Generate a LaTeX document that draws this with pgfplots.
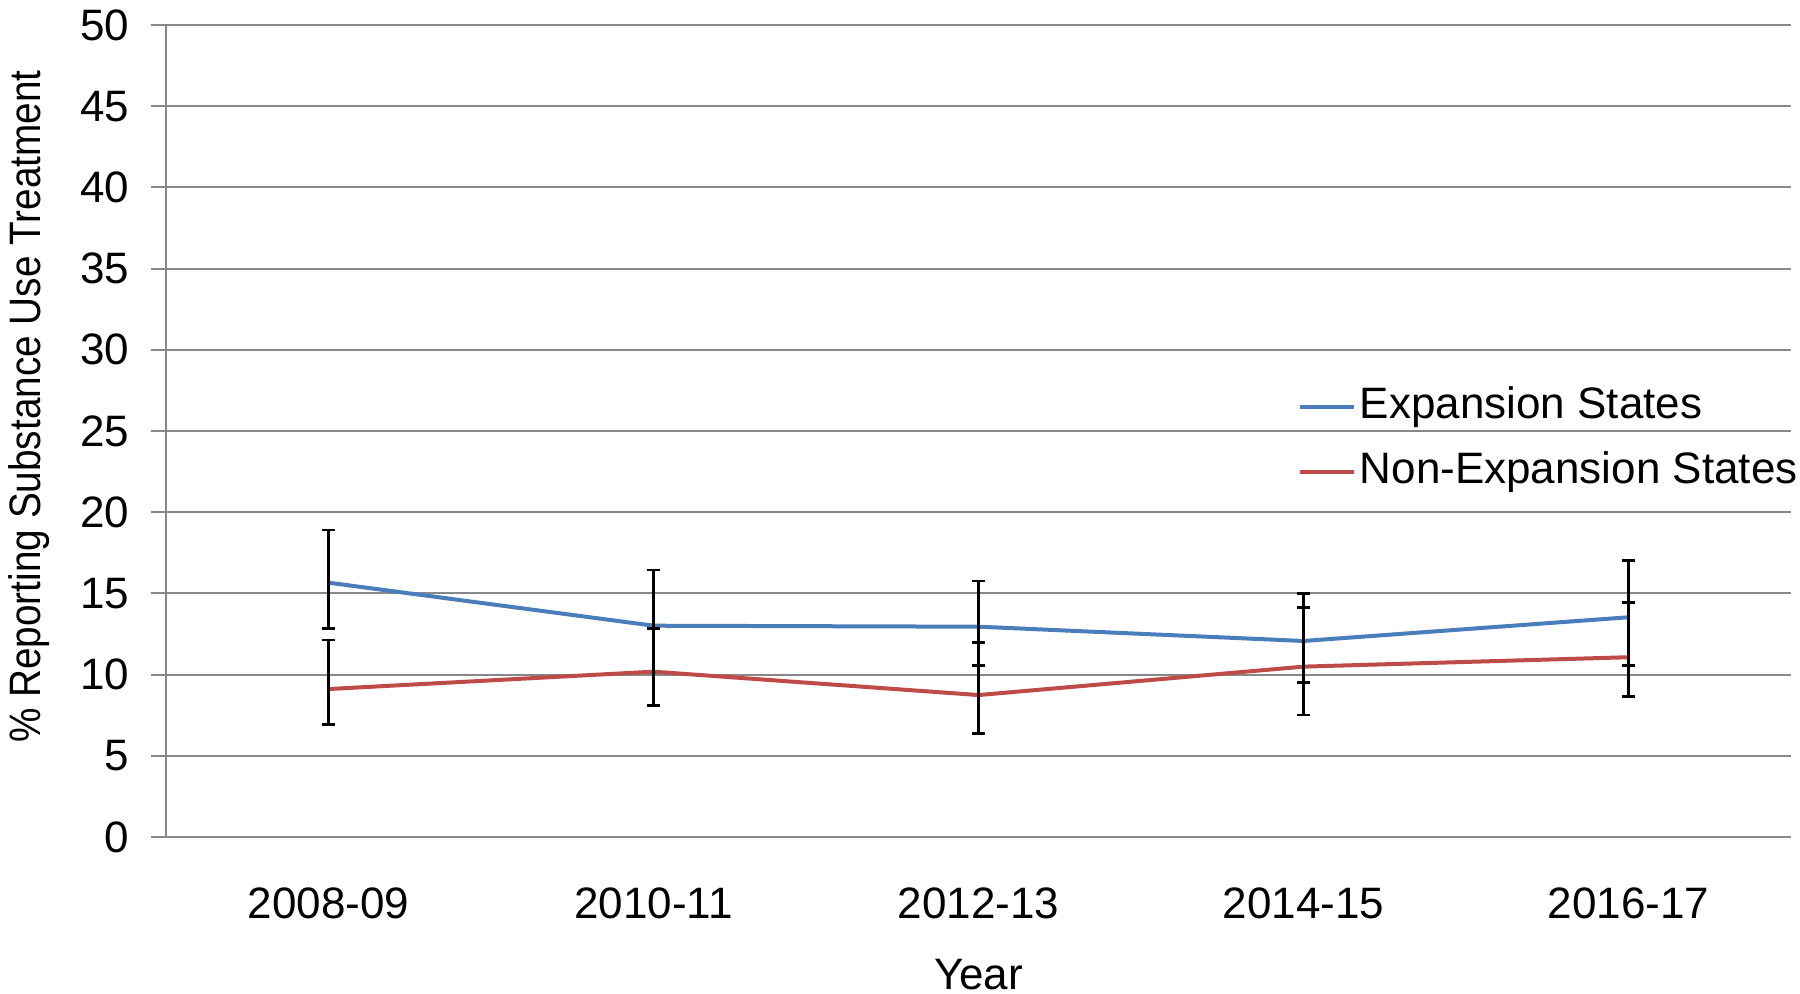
\documentclass[border=0pt]{standalone}
\usepackage{pgfplots}
\pgfplotsset{compat=1.18}
\usepackage{fontspec}
\setmainfont{Liberation Sans}
\definecolor{expblue}{HTML}{4A7EBB}
\definecolor{nonred}{HTML}{BE4B48}
\definecolor{gridgray}{HTML}{888888}
\newcommand{\ff}{\fontsize{11}{13}\selectfont}
\begin{document}
\begin{tikzpicture}
\begin{axis}[
  name=ax,
  scale only axis,
  width=406.25pt, height=203pt,
  xmin=-0.5, xmax=4.5,
  ymin=0, ymax=50,
  xtick={0,1,2,3,4},
  xticklabels={2008-09,2010-11,2012-13,2014-15,2016-17},
  ytick={0,5,...,50},
  axis x line=bottom, axis y line=left,
  axis line style={gridgray, line width=0.5pt, -},
  x axis line style={draw=none},
  ymajorgrids,
  grid style={gridgray, line width=0.5pt},
  tick align=outside,
  major tick length=3.75pt,
  xtick style={draw=none},
  ytick style={gridgray, line width=0.5pt},
  /pgf/number format/assume math mode=true,
  ticklabel style={font=\ff, text=black},
  yticklabel style={xshift=-1.9pt},
  xticklabel style={anchor=center, yshift=-12.9pt},
  xlabel={Year},
  ylabel={\scalebox{0.88}[1]{\% Reporting Substance Use Treatment}},
  label style={font=\ff},
  xlabel style={at={(axis description cs:0.5,-0.17)}, anchor=center},
  ylabel style={at={(axis description cs:-0.0843,0.53)}, anchor=center},
  legend style={draw=none, fill=none, font=\ff, at={(axis description cs:0.696,0.489)}, anchor=west, inner sep=0pt, row sep=3.75pt, nodes={inner sep=1pt, text height=8pt, text depth=2.5pt}},
  legend cell align=left,
  legend image code/.code={\draw[#1, line width=1pt] (0pt,0pt) -- (13.5pt,0pt);},
  clip=false,
]
\addplot[expblue, line width=1pt, mark=none,
  error bars/.cd, y dir=both, y explicit,
  error bar style={black, line width=0.7pt},
  error mark options={black, rotate=90, mark size=1.7pt, line width=0.7pt}]
  coordinates {
  (0,15.66) += (0,3.24) -= (0,2.81)
  (1,13.01) += (0,3.43) -= (0,2.90)
  (2,12.95) += (0,2.81) -= (0,2.40)
  (3,12.07) += (0,2.93) -= (0,2.55)
  (4,13.53) += (0,3.48) -= (0,2.98)
  };
\addlegendentry{Expansion States}
\addplot[nonred, line width=1pt, mark=none,
  error bars/.cd, y dir=both, y explicit,
  error bar style={black, line width=0.7pt},
  error mark options={black, rotate=90, mark size=1.7pt, line width=0.7pt}]
  coordinates {
  (0,9.11) += (0,3.02) -= (0,2.17)
  (1,10.18) += (0,2.67) -= (0,2.09)
  (2,8.74) += (0,3.23) -= (0,2.36)
  (3,10.49) += (0,3.65) -= (0,2.98)
  (4,11.07) += (0,3.36) -= (0,2.43)
  };
\addlegendentry{Non-Expansion States}
\end{axis}
\pgfresetboundingbox
\path (ax.south west) ++(-41.5pt,-39.25pt) coordinate (bl);
\path (ax.north east) ++(2.25pt,6.25pt) coordinate (tr);
\path[use as bounding box] (bl) rectangle (tr);
\end{tikzpicture}
\end{document}
